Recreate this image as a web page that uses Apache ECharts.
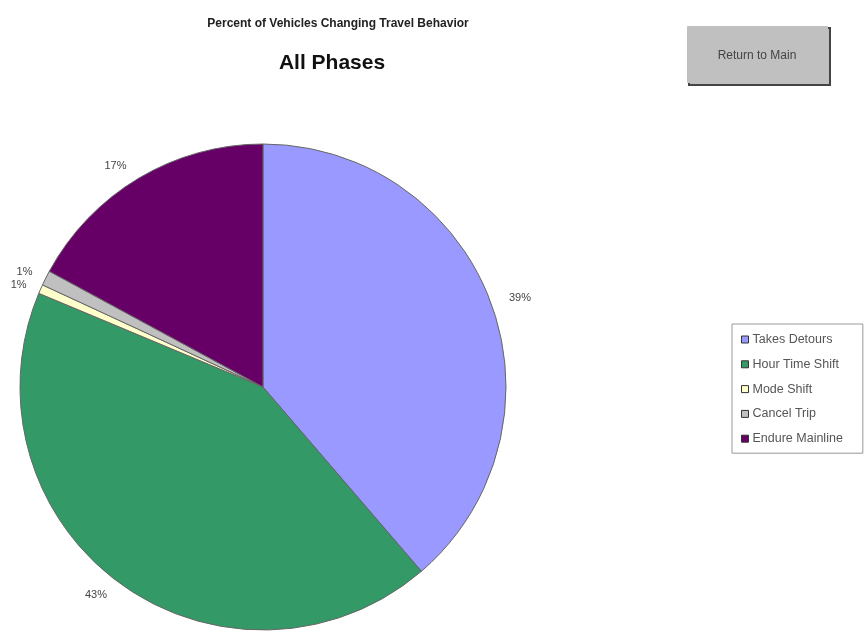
<!DOCTYPE html>
<html>
<head>
<meta charset="utf-8">
<script src="https://cdn.jsdelivr.net/npm/echarts@6/dist/echarts.min.js"></script>
<style>
html, body { margin: 0; padding: 0; background: #fff; }
#main { width: 865px; height: 631px; }
</style>
</head>
<body>
<div id="main"></div>
<script>
// 数据
var categories = ["Takes Detours", "Hour Time Shift", "Mode Shift", "Cancel Trip", "Endure Mainline"];
var values = [38.7, 42.6, 0.6, 1.0, 17.1];
var colors = ["#9999FF", "#339966", "#FFFFCC", "#C0C0C0", "#660066"];

var pieData = [];
for (var i = 0; i < categories.length; i++) {
    pieData.push({ name: categories[i], value: values[i], itemStyle: { color: colors[i] } });
}

var myChart = echarts.init(document.getElementById("main"));
var option = {
    animation: false,
    backgroundColor: '#fff',
    title: [
        {
            text: 'Percent of Vehicles Changing Travel Behavior',
            left: 333, top: 13, textAlign: 'center',
            textStyle: { fontFamily: 'Arial, Liberation Sans', fontSize: 12, fontWeight: 'bold', color: '#222' }
        },
        {
            text: 'All Phases',
            left: 327, top: 48, textAlign: 'center',
            textStyle: { fontFamily: 'Arial, Liberation Sans', fontSize: 21, fontWeight: 'bold', color: '#111' }
        }
    ],
    legend: {
        orient: 'vertical',
        left: 732, top: 324,
        itemWidth: 7, itemHeight: 7,
        itemGap: 11.8,
        padding: [9, 20, 8, 9],
        borderColor: '#999', borderWidth: 1,
        icon: 'rect',
        itemStyle: { borderColor: '#333', borderWidth: 1 },
        textStyle: { fontFamily: 'Arial, Liberation Sans', fontSize: 12.5, color: '#555', padding: [0, 0, 0, -1] },
        data: categories
    },
    graphic: [
        {
            type: 'rect', left: 688, top: 27,
            shape: { width: 141, height: 57 },
            style: { fill: '#C0C0C0', stroke: '#444', lineWidth: 2 }
        },
        {
            type: 'rect', left: 687, top: 26,
            shape: { width: 140, height: 56 },
            style: { fill: '#C0C0C0', stroke: '#C0C0C0', lineWidth: 1 }
        },
        {
            type: 'text', x: 757, y: 56,
            style: { text: 'Return to Main', fill: '#444', font: '12px Arial, Liberation Sans', align: 'center', verticalAlign: 'middle' }
        }
    ],
    series: [
        {
            type: 'pie',
            center: [263, 387],
            radius: 243,
            startAngle: 90,
            clockwise: true,
            data: pieData,
            itemStyle: { borderColor: '#666', borderWidth: 1 },
            label: {
                show: true,
                position: 'outside',
                overflow: 'none',
                edgeDistance: 0,
                fontFamily: 'Arial, Liberation Sans',
                fontSize: 11,
                color: '#444',
                formatter: function (p) { return Math.round(p.percent) + '%'; }
            },
            labelLine: { show: false, length: 14, length2: 0 }
        }
    ]
};
myChart.setOption(option);
</script>
</body>
</html>
